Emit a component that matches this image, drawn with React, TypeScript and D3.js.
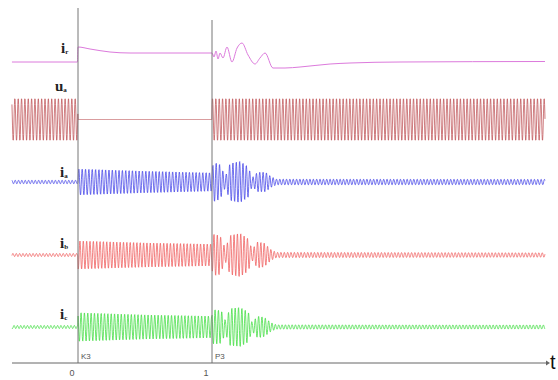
import React from "react";
import * as d3 from "d3";

// ---- data ----
const T_START = -0.493;
const T_END = 3.485;
const CARRIER_CYCLES_PER_UNIT = 40;

const tickValues = [0, 1];
const tickLabels = ["0", "1"];
const eventLabels = ["K3", "P3"];

// ir : slow current trace (knots)
const irT = [-0.493, -0.004, 0, 0.09, 0.239, 0.388, 1.0, 1.015, 1.03, 1.045, 1.06, 1.082, 1.112, 1.149, 1.187, 1.224, 1.269, 1.321, 1.358, 1.396, 1.455, 1.545, 1.657, 1.881, 2.03, 2.403, 3.485];
const irV = [0, 0, 1.5, 1.3, 1.0, 0.9, 0.9, 0.5, 1.1, 0.3, 0.9, 0.4, 1.5, 0.0, 1.4, 1.9, 0.7, -0.2, 0.4, 0.9, -0.6, -0.6, -0.5, -0.2, -0.1, 0, 0.05];

// ua envelope
const uaEnvT = [-0.493, -0.001, 0, 0.999, 1.0, 3.485];
const uaEnvA = [0.97, 0.97, 0, 0, 0.97, 0.97];

// ia / ib / ic envelopes
const iaEnvT = [-0.493, -0.001, 0, 0.5, 0.999, 1.0, 1.015, 1.06, 1.1, 1.135, 1.21, 1.27, 1.3, 1.34, 1.4, 1.44, 1.48, 3.485];
const iaEnvA = [0.08, 0.08, 0.6, 0.5, 0.42, 0.65, 0.9, 0.8, 0.25, 0.85, 0.95, 0.7, 0.2, 0.45, 0.45, 0.25, 0.13, 0.12];

const ibEnvT = [-0.493, -0.001, 0, 0.5, 0.999, 1.0, 1.015, 1.06, 1.1, 1.135, 1.21, 1.27, 1.3, 1.34, 1.39, 1.44, 1.48, 3.485];
const ibEnvA = [0.07, 0.07, 0.65, 0.56, 0.5, 0.7, 0.95, 0.9, 0.3, 0.9, 1.0, 0.75, 0.25, 0.6, 0.55, 0.25, 0.12, 0.1];

const icEnvT = [-0.493, -0.001, 0, 0.5, 0.999, 1.0, 1.015, 1.07, 1.1, 1.135, 1.21, 1.27, 1.3, 1.34, 1.39, 1.44, 1.48, 3.485];
const icEnvA = [0.07, 0.07, 0.66, 0.56, 0.5, 0.7, 0.8, 0.75, 0.3, 0.85, 0.9, 0.7, 0.2, 0.5, 0.45, 0.2, 0.1, 0.09];

const channelNames = ["i", "u", "i", "i", "i"];
const channelSubs = ["r", "a", "a", "b", "c"];

// ---- layout ----
const W = 558;
const H = 380;
const AXIS_Y = 363;

const x = d3.scaleLinear().domain([0, 1]).range([78, 212]);

function waveform(envT: number[], envA: number[], base: number, amp: number, phase: number) {
  const env = d3.scaleLinear().domain(envT).range(envA).clamp(true);
  const y = d3.scaleLinear().domain([-1, 1]).range([base + amp, base - amp]);
  const dt = 1 / (CARRIER_CYCLES_PER_UNIT * 12);
  const pts: [number, number][] = [];
  const n = Math.ceil((T_END - T_START) / dt);
  for (let i = 0; i <= n; i++) {
    const t = Math.min(T_START + i * dt, T_END);
    const v = env(t) * Math.sin(2 * Math.PI * CARRIER_CYCLES_PER_UNIT * t + phase);
    pts.push([x(t), y(v)]);
  }
  return d3.line()(pts) || "";
}

export default function App() {
  const irY = d3.scaleLinear().domain([0, 1]).range([62, 52]);
  const irPath =
    d3
      .line<number>()
      .x((_, i) => x(irT[i]))
      .y((_, i) => irY(irV[i]))
      .curve(d3.curveMonotoneX)(irV) || "";

  const uaPath = waveform(uaEnvT, uaEnvA, 119.5, 22, 0.6);
  const iaPath = waveform(iaEnvT, iaEnvA, 182, 22, 0);
  const ibPath = waveform(ibEnvT, ibEnvA, 255, 22, (-2 * Math.PI) / 3);
  const icPath = waveform(icEnvT, icEnvA, 327, 22, (2 * Math.PI) / 3);

  const labelPos: [number, number][] = [
    [61, 53],
    [55, 91],
    [60, 177],
    [60, 248],
    [60, 319],
  ];

  return (
    <svg width={W} height={H} style={{ position: "absolute", left: 0, top: 0, background: "#fff" }}>
      {/* waveforms */}
      <path d={irPath} fill="none" stroke="#dc7adc" strokeWidth={1} />
      <path d={uaPath} fill="none" stroke="#c25a5e" strokeWidth={0.8} />
      <path d={iaPath} fill="none" stroke="#4a4ae8" strokeWidth={0.8} />
      <path d={ibPath} fill="none" stroke="#f06262" strokeWidth={0.8} />
      <path d={icPath} fill="none" stroke="#46de46" strokeWidth={0.8} />

      {/* vertical event lines */}
      <line x1={x(0)} x2={x(0)} y1={8} y2={AXIS_Y} stroke="#777" strokeWidth={1} />
      <line x1={x(1)} x2={x(1)} y1={20} y2={AXIS_Y} stroke="#777" strokeWidth={1} />

      {/* time axis */}
      <line x1={12} x2={546} y1={AXIS_Y} y2={AXIS_Y} stroke="#666" strokeWidth={1} />
      <path d={`M546,${AXIS_Y - 2.5} L550,${AXIS_Y} L546,${AXIS_Y + 2.5} Z`} fill="#666" />
      <text x={550} y={369} fontFamily="Liberation Sans, Arial, sans-serif" fontSize={20} fill="#111">
        t
      </text>

      {tickValues.map((v, i) => (
        <g key={"tk" + i}>
          <text x={x(v) - 6} y={376} fontFamily="Liberation Sans, Arial, sans-serif" fontSize={9} fill="#555" textAnchor="middle">
            {tickLabels[i]}
          </text>
          <text x={x(v) + 3} y={359} fontFamily="Liberation Sans, Arial, sans-serif" fontSize={8} fill="#555">
            {eventLabels[i]}
          </text>
        </g>
      ))}

      {/* channel labels */}
      {channelNames.map((nm, i) => (
        <text
          key={"lb" + i}
          x={labelPos[i][0]}
          y={labelPos[i][1]}
          fontFamily="Liberation Serif, Times New Roman, serif"
          fontWeight="bold"
          fontSize={15}
          fill="#222"
        >
          {nm}
          <tspan fontSize={7} dy={1}>
            {channelSubs[i]}
          </tspan>
        </text>
      ))}
    </svg>
  );
}
